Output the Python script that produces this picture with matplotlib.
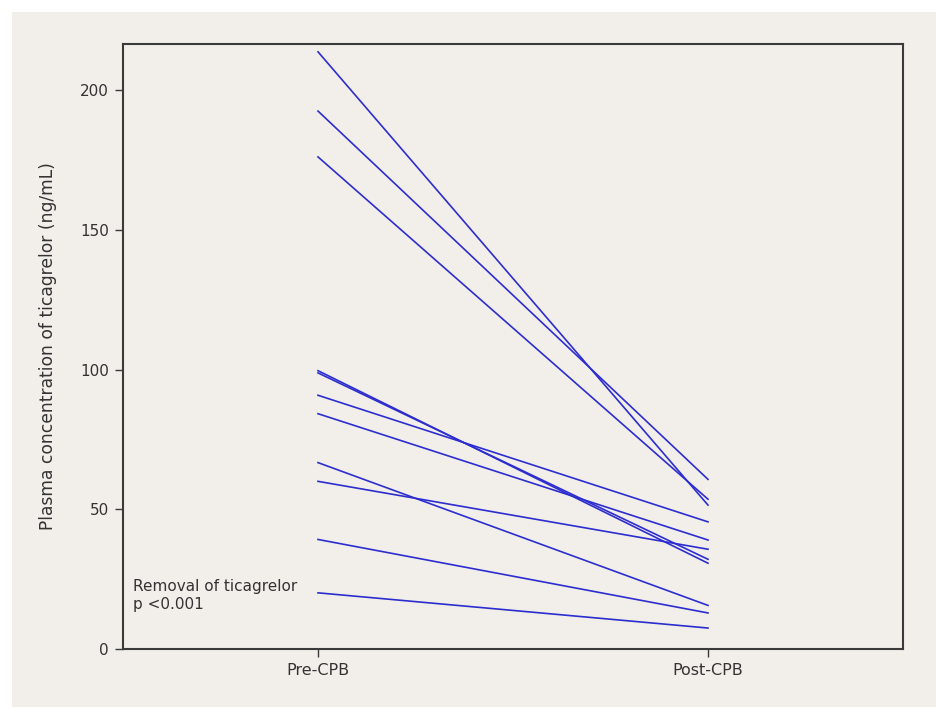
import matplotlib.pyplot as plt
from matplotlib.patches import Rectangle

# valeurs (ng/mL)
groups = ['Pre-CPB', 'Post-CPB']
pre_cpb = [213.7, 192.5, 176.1, 99.6, 98.8, 90.8, 84.2, 66.7, 60.0, 39.2, 20.1]
post_cpb = [51.5, 60.7, 53.6, 30.7, 32.1, 45.5, 39.0, 15.6, 35.7, 12.9, 7.5]
y_ticks = [0, 50, 100, 150, 200]

bg = '#f2efea'
line_color = '#2d2dcf'
frame_color = '#3a3a3a'
text_color = '#333333'

plt.rcParams['font.family'] = ['DejaVu Sans']

fig = plt.figure(figsize=(9.36, 7.07), dpi=100)
fig.patch.set_facecolor(bg)
# marge blanche en haut et a gauche
fig.add_artist(Rectangle((0, 0), 12 / 936, 1, transform=fig.transFigure,
                         facecolor='white', edgecolor='none', zorder=-5))
fig.add_artist(Rectangle((0, 1 - 12 / 707), 1, 12 / 707, transform=fig.transFigure,
                         facecolor='white', edgecolor='none', zorder=-5))

ax = fig.add_axes([123 / 936, 58 / 707, 780 / 936, 605 / 707])
ax.set_facecolor(bg)

x = [1, 2]
for a, b in zip(pre_cpb, post_cpb):
    ax.plot(x, [a, b], color=line_color, linewidth=1.2)

ax.set_xlim(0.5, 2.5)
ax.set_ylim(0, 216.5)
ax.set_xticks(x)
ax.set_xticklabels(groups, fontsize=11.5, color=text_color)
ax.set_yticks(y_ticks)
ax.set_yticklabels([str(v) for v in y_ticks], fontsize=11, color=text_color)
ax.tick_params(axis='both', direction='out', length=6, width=1, color=frame_color, pad=4)
ax.set_ylabel('Plasma concentration of ticagrelor (ng/mL)', fontsize=12.3,
              color=text_color, labelpad=17)

for s in ax.spines.values():
    s.set_color(frame_color)
    s.set_linewidth(1.5)

ax.text(0.013, 0.115, 'Removal of ticagrelor\np <0.001', transform=ax.transAxes,
        fontsize=11, color=text_color, va='top', ha='left', linespacing=1.25)

fig.savefig('out.png', dpi=100, facecolor=fig.get_facecolor())
